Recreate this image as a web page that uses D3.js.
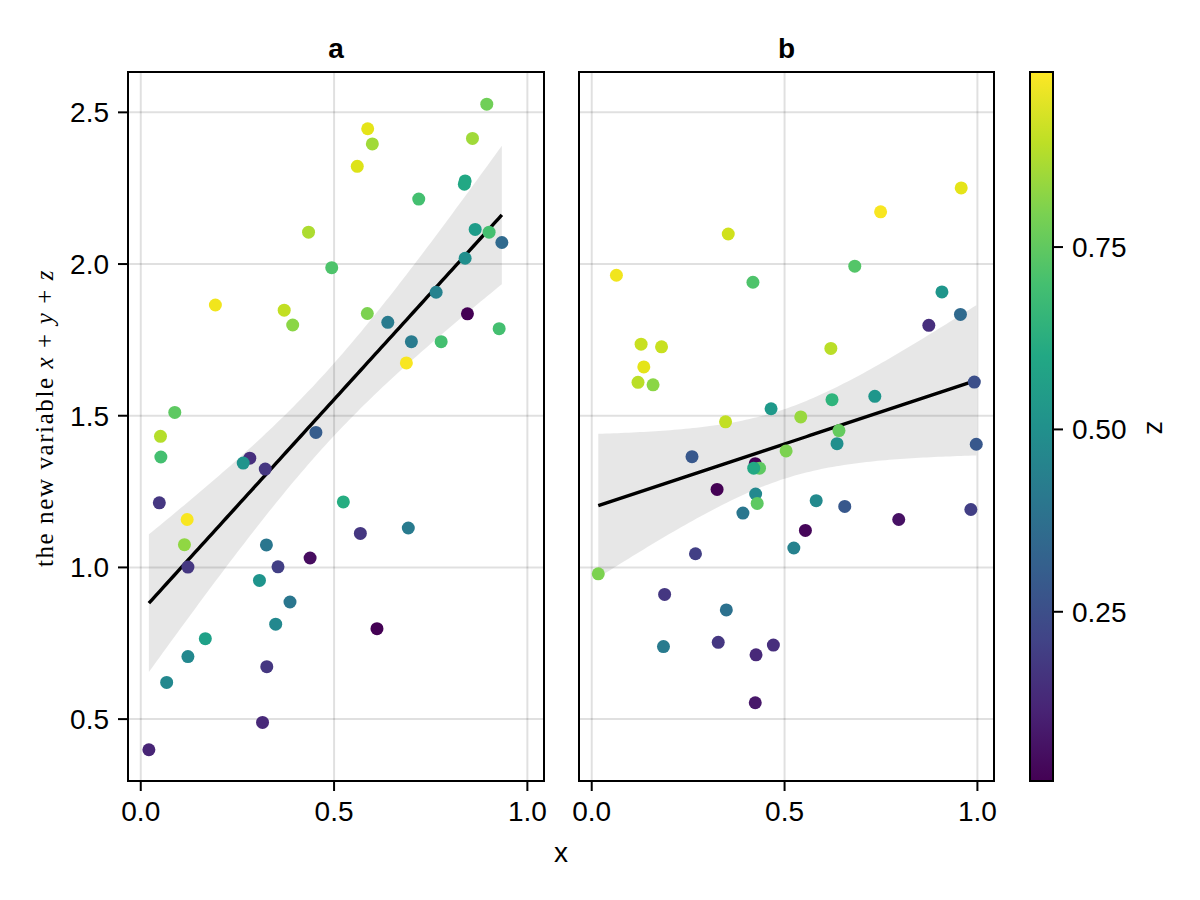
<!DOCTYPE html>
<html>
<head>
<meta charset="utf-8">
<script src="https://cdn.jsdelivr.net/npm/d3@7"></script>
<style>
body{margin:0;background:#fff}
svg{display:block}
text{font-family:"Liberation Sans",Arial,sans-serif;fill:#000}
</style>
</head>
<body>
<svg id="chart" width="1200" height="900"></svg>
<script>
/* Data */
const panelTitles=["a","b"];

const xA=[0.895,0.587,0.599,0.858,0.560,0.839,0.837,0.719,0.434,0.494,0.865,0.901,0.934,0.839,0.193,0.371,0.393,0.586,0.764,0.639,0.845,0.700,0.777,0.927,0.687,0.088,0.453,
          0.051,0.052,0.282,0.265,0.322,0.048,0.120,0.113,0.122,0.524,0.568,0.692,0.325,0.438,0.355,0.307,0.386,0.349,0.611,0.167,0.122,0.067,0.326,0.315,0.021];
const yA=[2.527,2.446,2.396,2.414,2.322,2.274,2.263,2.214,2.105,1.988,2.114,2.105,2.071,2.019,1.865,1.848,1.799,1.837,1.907,1.808,1.836,1.744,1.744,1.787,1.674,1.511,1.445,
          1.432,1.364,1.360,1.344,1.324,1.213,1.158,1.075,1.001,1.216,1.112,1.130,1.074,1.031,1.002,0.957,0.886,0.813,0.798,0.765,0.706,0.621,0.673,0.489,0.399];
const zA=[0.78,0.95,0.85,0.85,0.94,0.60,0.60,0.70,0.87,0.72,0.55,0.70,0.35,0.50,0.97,0.90,0.82,0.80,0.45,0.42,0.02,0.42,0.70,0.70,0.98,0.75,0.30,
          0.88,0.70,0.15,0.52,0.17,0.17,0.98,0.83,0.17,0.62,0.17,0.42,0.40,0.05,0.20,0.52,0.40,0.47,0.02,0.57,0.47,0.47,0.17,0.13,0.12];

const xB=[0.958,0.749,0.354,0.064,0.418,0.682,0.908,0.956,0.874,0.128,0.181,0.135,0.120,0.159,0.620,0.992,0.465,0.623,0.734,0.347,0.542,0.641,
          0.997,0.636,0.504,0.260,0.424,0.435,0.420,0.325,0.425,0.429,0.392,0.582,0.656,0.983,0.796,0.554,0.524,0.269,0.017,0.189,0.349,0.186,0.328,0.471,0.426,0.424];
const yB=[2.251,2.172,2.099,1.963,1.940,1.993,1.908,1.834,1.798,1.736,1.727,1.661,1.610,1.602,1.722,1.611,1.523,1.553,1.564,1.480,1.496,1.451,
          1.406,1.408,1.384,1.365,1.342,1.327,1.327,1.257,1.242,1.211,1.179,1.220,1.201,1.191,1.158,1.122,1.064,1.045,0.979,0.911,0.860,0.739,0.753,0.744,0.712,0.554];
const zB=[0.95,0.98,0.92,0.97,0.72,0.73,0.53,0.35,0.15,0.91,0.91,0.95,0.89,0.82,0.89,0.25,0.54,0.65,0.53,0.90,0.84,0.76,
          0.28,0.50,0.80,0.28,0.02,0.75,0.60,0.02,0.47,0.75,0.40,0.48,0.28,0.20,0.06,0.03,0.45,0.20,0.80,0.17,0.38,0.42,0.17,0.15,0.13,0.08];

const xTicks=[0,0.5,1.0];
const yTicks=[0.5,1.0,1.5,2.0,2.5];
const zTicks=[0.25,0.5,0.75];
const xDomain=[-0.033,1.043];
const yDomain=[0.296,2.633];
const zDomain=[0.018,0.99];

/* Layout */
const svg=d3.select("#chart");
const yTop=72,yBottom=781;
const frames=[{x0:128,x1:544},{x0:579,x1:994}];
const cbar={x0:1030,x1:1053};
const fmt=d3.format(".1f");
const color=d3.scaleSequential(d3.interpolateViridis).domain(zDomain);
const y=d3.scaleLinear().domain(yDomain).range([yBottom,yTop]);

/* Linear fit with 95% confidence band */
function fit(xs,ys){
  const n=xs.length, mx=d3.mean(xs), my=d3.mean(ys);
  let sxx=0,sxy=0;
  xs.forEach((v,i)=>{sxx+=(v-mx)*(v-mx); sxy+=(v-mx)*(ys[i]-my);});
  const b=sxy/sxx, a=my-b*mx;
  const s=Math.sqrt(d3.sum(xs,(v,i)=>(ys[i]-a-b*v)**2)/(n-2));
  const t=2.01;
  const [lo,hi]=d3.extent(xs);
  return d3.range(0,101).map(i=>{
    const xv=lo+(hi-lo)*i/100, yh=a+b*xv, se=s*Math.sqrt(1/n+(xv-mx)**2/sxx);
    return {x:xv,y:yh,lo:yh-t*se,hi:yh+t*se};
  });
}

const sets=[{xs:xA,ys:yA,zs:zA},{xs:xB,ys:yB,zs:zB}];

sets.forEach((d,k)=>{
  const f=frames[k];
  const x=d3.scaleLinear().domain(xDomain).range([f.x0,f.x1]);
  const g=svg.append("g");

  // grid
  g.selectAll(".gx").data(xTicks).enter().append("line")
    .attr("x1",v=>x(v)).attr("x2",v=>x(v)).attr("y1",yTop).attr("y2",yBottom)
    .attr("stroke","rgba(0,0,0,0.12)").attr("stroke-width",2);
  g.selectAll(".gy").data(yTicks).enter().append("line")
    .attr("x1",f.x0).attr("x2",f.x1).attr("y1",v=>y(v)).attr("y2",v=>y(v))
    .attr("stroke","rgba(0,0,0,0.12)").attr("stroke-width",2);

  // band + line
  const fl=fit(d.xs,d.ys);
  g.append("path").datum(fl)
    .attr("d",d3.area().x(p=>x(p.x)).y0(p=>y(p.lo)).y1(p=>y(p.hi)))
    .attr("fill","rgba(0,0,0,0.095)");
  g.append("path").datum(fl)
    .attr("d",d3.line().x(p=>x(p.x)).y(p=>y(p.y)))
    .attr("fill","none").attr("stroke","#000").attr("stroke-width",3.4);

  // points
  g.selectAll(".pt").data(d.xs).enter().append("circle")
    .attr("cx",v=>x(v)).attr("cy",(v,i)=>y(d.ys[i])).attr("r",6.5)
    .attr("fill",(v,i)=>color(d.zs[i]));

  // frame
  g.append("rect").attr("x",f.x0).attr("y",yTop).attr("width",f.x1-f.x0).attr("height",yBottom-yTop)
    .attr("fill","none").attr("stroke","#000").attr("stroke-width",2);

  // x axis ticks
  g.selectAll(".tx").data(xTicks).enter().append("line")
    .attr("x1",v=>x(v)).attr("x2",v=>x(v)).attr("y1",yBottom).attr("y2",yBottom+10)
    .attr("stroke","#000").attr("stroke-width",2);
  g.selectAll(".lx").data(xTicks).enter().append("text")
    .attr("x",v=>x(v)).attr("y",yBottom+40).attr("text-anchor","middle")
    .attr("font-size",28).text(v=>fmt(v));

  if(k===0){
    g.selectAll(".ty").data(yTicks).enter().append("line")
      .attr("x1",f.x0-10).attr("x2",f.x0).attr("y1",v=>y(v)).attr("y2",v=>y(v))
      .attr("stroke","#000").attr("stroke-width",2);
    g.selectAll(".ly").data(yTicks).enter().append("text")
      .attr("x",f.x0-19).attr("y",v=>y(v)+10).attr("text-anchor","end")
      .attr("font-size",28).text(v=>fmt(v));
  }

  g.append("text").attr("x",(f.x0+f.x1)/2).attr("y",58).attr("text-anchor","middle")
    .attr("font-size",28).attr("font-weight","bold").text(panelTitles[k]);
});

/* axis labels */
svg.append("text").attr("x",(frames[0].x0+frames[1].x1)/2).attr("y",862)
  .attr("text-anchor","middle").attr("font-size",28).text("x");

const yl=svg.append("text").attr("transform","translate(53,418) rotate(-90)")
  .attr("text-anchor","middle").attr("font-size",25).attr("letter-spacing",1.6)
  .style("font-family","'Liberation Serif','DejaVu Serif',serif");
yl.append("tspan").text("the new variable ");
[["x"," + "],["y"," + "],["z",""]].forEach(([v,op])=>{
  yl.append("tspan").attr("font-style","italic").text(v);
  if(op) yl.append("tspan").text(op);
});

/* colorbar */
const zy=d3.scaleLinear().domain(zDomain).range([yBottom,yTop]);
const defs=svg.append("defs");
const grad=defs.append("linearGradient").attr("id","vir").attr("x1",0).attr("y1",1).attr("x2",0).attr("y2",0);
d3.range(0,11).forEach(i=>{
  grad.append("stop").attr("offset",i/10).attr("stop-color",d3.interpolateViridis(i/10));
});
svg.append("rect").attr("x",cbar.x0).attr("y",yTop).attr("width",cbar.x1-cbar.x0).attr("height",yBottom-yTop)
  .attr("fill","url(#vir)").attr("stroke","#000").attr("stroke-width",2);
svg.selectAll(".tz").data(zTicks).enter().append("line")
  .attr("x1",cbar.x1).attr("x2",cbar.x1+10).attr("y1",v=>zy(v)).attr("y2",v=>zy(v))
  .attr("stroke","#000").attr("stroke-width",2);
svg.selectAll(".lz").data(zTicks).enter().append("text")
  .attr("x",cbar.x1+19).attr("y",v=>zy(v)+10).attr("font-size",28).text(v=>d3.format(".2f")(v));
svg.append("text").attr("transform","translate(1147,428) rotate(90)")
  .attr("text-anchor","middle").attr("font-size",28).text("z");
</script>
</body>
</html>
